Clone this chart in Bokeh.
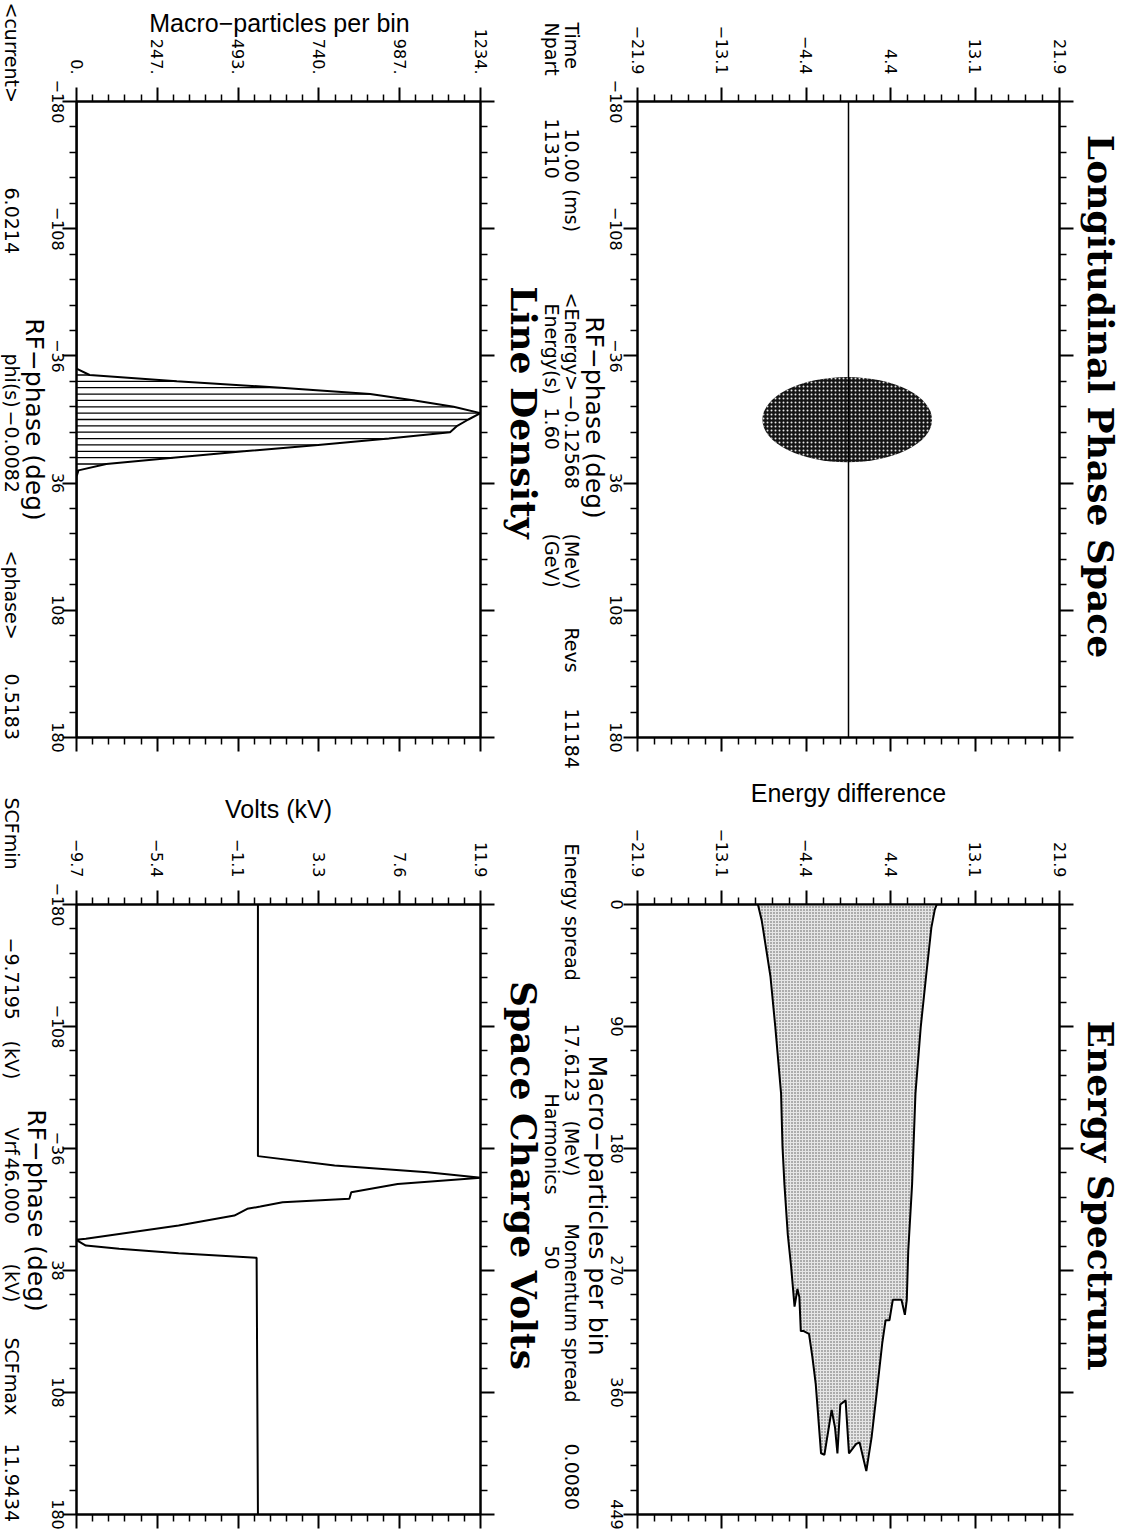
import math
from bokeh.plotting import figure
from bokeh.models import (Range1d, LinearAxis, FixedTicker, CustomJSTickFormatter,
                          Label, LabelSet, ColumnDataSource, Span, GridBox)
from bokeh.layouts import row, column
from bokeh.embed import file_html
from bokeh.resources import INLINE
from bokeh.core.properties import value

# ------------------------------------------------------------------ data
phase_ticks = [-180, -108, -36, 36, 108, 180]
phase_tick_labels = ["−180", "−108", "−36", "36", "108", "180"]
volts_phase_tick_labels = ["−180", "−108", "−36", "38", "108", "180"]

energy_ticks = [-21.9, -13.14, -4.38, 4.38, 13.14, 21.9]
energy_tick_labels = ["−21.9", "−13.1", "−4.4", "4.4", "13.1", "21.9"]

density_ticks = [0, 246.8, 493.6, 740.4, 987.2, 1234]
density_tick_labels = ["0.", "247.", "493.", "740.", "987.", "1234."]

spectrum_ticks = [0, 89.8, 179.6, 269.4, 359.2, 449]
spectrum_tick_labels = ["0", "90", "180", "270", "360", "449"]

volts_ticks = [-9.7, -5.38, -1.06, 3.26, 7.58, 11.9]
volts_tick_labels = ["−9.7", "−5.4", "−1.1", "3.3", "7.6", "11.9"]

# longitudinal phase space: bunch outline (centre / full widths) and bucket line
bunch_energy = [-0.13]
bunch_phase = [0.1]
bunch_energy_width = [17.6]
bunch_phase_height = [48.2]
bucket_energy = [0.0]

# line density histogram (phase in deg, macro-particles per bin)
density_phase = [-180, -28.8, -25.2, -21.6, -18.0, -14.4, -10.8, -7.2, -3.6, 0.0, 3.6,
                 7.2, 10.8, 14.4, 18.0, 21.6, 25.2, 28.8, 32.4, 180]
density_count = [0, 0, 40, 306, 624, 897, 1033, 1152, 1234, 1197, 1163,
                 1141, 954, 738, 511, 295, 91, 6, 0, 0]

# energy spectrum (energy difference in MeV, macro-particles per bin)
spectrum_energy = [-9.4, -9.0, -8.1, -7.6, -7.0, -6.85, -6.65, -6.3, -5.95, -5.6, -5.3,
                   -5.1, -4.95, -4.65, -4.1, -3.75, -3.4, -2.85, -2.5, -1.75, -1.4,
                   -1.15, -0.85, -0.3, 0.05, 0.8, 1.15, 1.85, 2.4, 2.95, 3.5, 3.85,
                   4.25, 4.6, 5.5, 5.85, 6.05, 6.2, 6.6, 6.95, 7.5, 8.05, 8.6, 8.95, 9.15]
spectrum_count = [0, 12, 53, 90, 139, 178, 206, 243, 267, 296, 283,
                  289, 314, 314, 316, 333, 353, 404, 405, 372, 385,
                  404, 368, 365, 404, 397, 396, 417, 392, 358, 323, 306,
                  306, 291, 291, 302, 291, 255, 206, 139, 90, 53, 17, 4, 0]

# space charge volts (phase in deg, kV)
volts_phase = [-180, -31.5, -26.0, -22.0, -18.7, -15.1, -10.2, -6.3, -4.3, -1.75, -0.4,
               3.6, 9.5, 14.4, 17.3, 17.9, 21.3, 23.2, 25.8, 28.5, 180]
volts_kv = [0, 0, 4.1, 9.06, 11.94, 7.47, 4.99, 4.89, 1.32, 0.13, -0.57,
            -1.26, -4.24, -7.42, -9.2, -9.72, -9.2, -7.42, -4.24, -0.07, 0]

# ------------------------------------------------------------------ geometry (page pixels)
W, H = 1127, 1537
GEO = {
    "TL": dict(w=505, h=773, l=76, r=25, t=101, b=36),
    "TR": dict(w=622, h=773, l=132, r=68, t=101, b=36),
    "BL": dict(w=505, h=764, l=76, r=25, t=131, b=23),
    "BR": dict(w=622, h=764, l=132, r=68, t=131, b=23),
}
TOP_Y0, TOP_Y1 = 101, 737      # top frames (page px)
BOT_Y0, BOT_Y1 = 904, 1514     # bottom frames (page px)
ROT = -math.pi / 2
TICK_FONT = "DejaVu Sans"
INFO_FONT = "DejaVu Sans"
TITLE_FONT = "DejaVu Serif"


def minors(major, n=5):
    out = []
    for a, b in zip(major[:-1], major[1:]):
        out += [a + (b - a) * k / n for k in range(1, n)]
    return out


def make_fig(key, xr, yr):
    g = GEO[key]
    p = figure(width=g["w"], height=g["h"], x_range=xr, y_range=yr,
               output_backend="svg", toolbar_location=None,
               x_axis_location=None, y_axis_location=None,
               min_border_left=g["l"], min_border_right=g["r"],
               min_border_top=g["t"], min_border_bottom=g["b"])
    p.grid.visible = False
    p.background_fill_color = "white"
    p.border_fill_color = "white"
    p.outline_line_color = "black"
    p.outline_line_width = 2
    return p


def style_axis(ax):
    ax.axis_line_color = "black"
    ax.axis_line_width = 2
    ax.major_tick_line_color = "black"
    ax.major_tick_line_width = 2
    ax.minor_tick_line_color = "black"
    ax.minor_tick_line_width = 1.5
    ax.major_tick_in = 0
    ax.major_tick_out = 14
    ax.minor_tick_in = 0
    ax.minor_tick_out = 7


def blank():
    return CustomJSTickFormatter(code="return ''")


def add_axes(p, xt, xlabels, yt):
    top = LinearAxis(ticker=FixedTicker(ticks=xt, minor_ticks=minors(xt)),
                     major_label_overrides=dict(zip(xt, xlabels)),
                     major_label_orientation=ROT, major_label_standoff=13,
                     major_label_text_font=TICK_FONT, major_label_text_font_size="16px",
                     major_label_text_color="black")
    style_axis(top)
    p.add_layout(top, "above")
    for side, ticks in (("below", xt), ("left", yt), ("right", yt)):
        ax = LinearAxis(ticker=FixedTicker(ticks=ticks, minor_ticks=minors(ticks)), formatter=blank())
        style_axis(ax)
        p.add_layout(ax, side)


# ------------------------------------------------------------------ panels
tr = make_fig("TR", Range1d(energy_ticks[0], energy_ticks[-1]), Range1d(phase_ticks[-1], phase_ticks[0]))
add_axes(tr, energy_ticks, energy_tick_labels, phase_ticks)
tr.ellipse(x=bunch_energy, y=bunch_phase, width=bunch_energy_width, height=bunch_phase_height,
           fill_color="black", fill_alpha=0.92, line_color=None,
           hatch_pattern="dot", hatch_color="white", hatch_scale=4, hatch_weight=1.1, hatch_alpha=0.9)
tr.add_layout(Span(location=bucket_energy[0], dimension="height", line_color="black", line_width=1.5))

tl = make_fig("TL", Range1d(density_ticks[0], density_ticks[-1]), Range1d(phase_ticks[-1], phase_ticks[0]))
add_axes(tl, density_ticks, density_tick_labels, phase_ticks)
bins_phase = density_phase[1:-1]
bins_count = density_count[1:-1]
tl.segment(x0=0, y0=bins_phase, x1=bins_count, y1=bins_phase, line_color="black", line_width=1.3)
tl.line(density_count, density_phase, line_color="black", line_width=2)

br = make_fig("BR", Range1d(energy_ticks[0], energy_ticks[-1]), Range1d(spectrum_ticks[-1], spectrum_ticks[0]))
add_axes(br, energy_ticks, energy_tick_labels, spectrum_ticks)
br.varea(x=spectrum_energy, y1=0, y2=spectrum_count, fill_color="#e6e6e6",
         hatch_pattern="dot", hatch_color="#555555", hatch_scale=3, hatch_weight=1)
br.line(spectrum_energy, spectrum_count, line_color="black", line_width=2)

bl = make_fig("BL", Range1d(volts_ticks[0], volts_ticks[-1]), Range1d(phase_ticks[-1], phase_ticks[0]))
add_axes(bl, volts_ticks, volts_tick_labels, phase_ticks)
bl.line(volts_kv, volts_phase, line_color="black", line_width=2)

# ------------------------------------------------------------------ text overlay (page pixel coordinates)
ov = figure(width=W, height=H, x_range=Range1d(0, W), y_range=Range1d(H, 0),
            output_backend="svg", toolbar_location=None,
            x_axis_location=None, y_axis_location=None,
            min_border_left=0, min_border_right=0, min_border_top=0, min_border_bottom=0)
ov.grid.visible = False
ov.outline_line_color = None
ov.background_fill_color = None
ov.border_fill_color = None


def span_range(y0, y1, v0, v1):
    """Range for the overlay that maps page pixel y0->v0 and y1->v1."""
    k = (v1 - v0) / (y1 - y0)
    return Range1d(start=v0 + (H - y0) * k, end=v0 - y0 * k)


ov.extra_y_ranges = {
    "phase_top": span_range(TOP_Y0, TOP_Y1, phase_ticks[0], phase_ticks[-1]),
    "phase_bot": span_range(BOT_Y0, BOT_Y1, phase_ticks[0], phase_ticks[-1]),
    "count_bot": span_range(BOT_Y0, BOT_Y1, spectrum_ticks[0], spectrum_ticks[-1]),
}


def tick_labels(x, ticks, labels, rng):
    src = ColumnDataSource(dict(y=ticks, text=labels))
    ov.add_layout(LabelSet(x=x, y="y", y_range_name=rng, text="text", source=src,
                           angle=ROT, text_align="center", text_baseline="middle",
                           text_font=value(TICK_FONT), text_font_size=value("16px"),
                           text_color="black"))


tick_labels(57, phase_ticks, phase_tick_labels, "phase_top")
tick_labels(615, phase_ticks, phase_tick_labels, "phase_top")
tick_labels(57, phase_ticks, volts_phase_tick_labels, "phase_bot")
tick_labels(616, spectrum_ticks, spectrum_tick_labels, "count_bot")


def put(ix, iy, text, size, font=INFO_FONT, style="normal", angle=ROT, align="left"):
    ov.add_layout(Label(x=ix, y=iy, text=text, angle=angle, text_align=align,
                        text_baseline="middle", text_font=font,
                        text_font_size=f"{size}px", text_font_style=style,
                        text_color="black"))


# titles
put(1100, 396, "Longitudinal Phase Space", 36, TITLE_FONT, "bold", align="center")
put(523, 412, "Line Density", 36, TITLE_FONT, "bold", align="center")
put(1100, 1195, "Energy Spectrum", 36, TITLE_FONT, "bold", align="center")
put(523, 1175, "Space Charge Volts", 36, TITLE_FONT, "bold", align="center")

# axis titles
put(279, 22, "Macro−particles per bin", 25, "Liberation Sans", angle=0, align="center")
put(848, 792, "Energy difference", 25, "Liberation Sans", angle=0, align="center")
put(278, 808, "Volts (kV)", 25, "Liberation Sans", angle=0, align="center")
put(594, 417, "RF−phase (deg)", 25, align="center")
put(34, 419, "RF−phase (deg)", 25, align="center")
put(36, 1210, "RF−phase (deg)", 25, align="center")
put(597, 1205, "Macro−particles per bin", 25, align="center")

# run information
for ix, iy, t in [(571, 22, "Time"), (571, 128, "10.00 (ms)"), (571, 292, "<Energy>"),
                  (571, 394, "−0.12568"), (571, 533, "(MeV)"), (571, 627, "Revs"), (571, 708, "11184"),
                  (551, 22, "Npart"), (551, 118, "11310"), (551, 303, "Energy(s)"),
                  (551, 407, "1.60"), (551, 533, "(GeV)"),
                  (571, 843, "Energy spread"), (571, 1023, "17.6123"), (571, 1120, "(MeV)"),
                  (571, 1223, "Momentum spread"), (571, 1443, "0.0080"),
                  (551, 1093, "Harmonics"), (551, 1245, "50")]:
    put(ix, iy, t, 19)
for iy, t in [(2, "<current>"), (187, "6.0214"), (353, "phi(s)"), (410, "−0.0082"),
              (550, "<phase>"), (673, "0.5183"),
              (797, "SCFmin"), (937, "−9.7195"), (1040, "(kV)"), (1127, "Vrf"),
              (1157, "46.000"), (1263, "(kV)"), (1337, "SCFmax"), (1443, "11.9434")]:
    put(11, iy, t, 19)

panels = column(row(tl, tr), row(bl, br))
layout = GridBox(children=[(panels, 0, 0), (column(ov), 0, 0)])
open("out.html", "w").write(file_html(layout, INLINE))
